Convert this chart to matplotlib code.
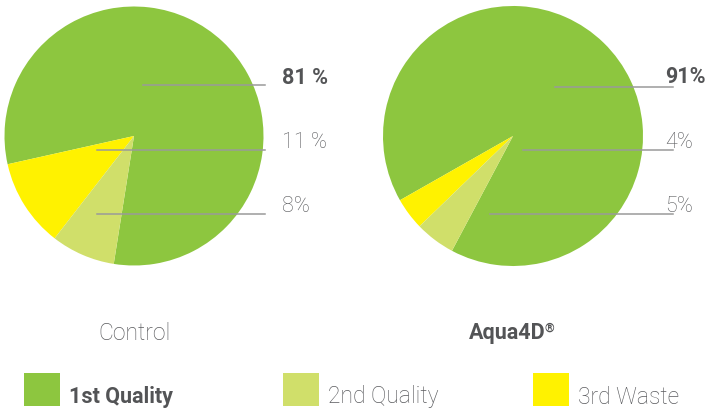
import matplotlib.pyplot as plt

# data
categories = ['1st Quality', '2nd Quality', '3rd Waste']
control = [81, 8, 11]
aqua = [91, 5, 4]
control_labels = ['81 %', '11 %', '8%']
aqua_labels = ['91%', '4%', '5%']
titles = ['Control', 'Aqua4D']

colors = {'1st Quality': '#8dc63f', '2nd Quality': '#d0df6a', '3rd Waste': '#fff200'}
grey = '#5a5b5e'
dark = '#535456'
line_c = '#9a9a9a'

plt.rcParams['font.family'] = ['Roboto', 'DejaVu Sans']

W, H = 707, 415
fig = plt.figure(figsize=(W / 100, H / 100), dpi=100)
ax = fig.add_axes([0, 0, 1, 1])


def py(y):
    # pixel row from top -> data y
    return H - y


# pie order drawn counterclockwise: 1st, 3rd, 2nd
order = [0, 2, 1]


def draw_pie(vals, cx, cy, r, start):
    v = [vals[i] for i in order]
    c = [colors[categories[i]] for i in order]
    ax.pie(v, colors=c, startangle=start, counterclock=True, center=(cx, py(cy)),
           radius=r, wedgeprops=dict(linewidth=0), frame=True)


draw_pie(control, 134, 136, 129.5, 261)
draw_pie(aqua, 513, 136, 130, 242)
ax.set_xlim(0, W)
ax.set_ylim(0, H)
ax.set_aspect('equal')
ax.axis('off')

# label leader lines and texts
left_lines = [(143, 85), (97, 150), (97, 214)]
right_lines = [(555, 87), (523, 150), (490, 214)]
left_text_y = [78, 142, 206]
right_text_y = [77, 142, 207]

for i, (x0, y0) in enumerate(left_lines):
    ax.plot([x0, 265], [py(y0), py(y0)], color=line_c, lw=1.1)
    ax.text(282, py(left_text_y[i]), control_labels[i], ha='left', va='center', fontsize=15.5,
            color=dark if i == 0 else grey, fontweight='bold' if i == 0 else 'light')

for i, (x0, y0) in enumerate(right_lines):
    ax.plot([x0, 673], [py(y0), py(y0)], color=line_c, lw=1.1)
    ax.text(665, py(right_text_y[i]), aqua_labels[i], ha='left', va='center', fontsize=15.5,
            color=dark if i == 0 else grey, fontweight='bold' if i == 0 else 'light')

ax.text(134, py(333), titles[0], ha='center', va='center', fontsize=16.5, color=grey, fontweight='light')
t = ax.text(507, py(333), titles[1], ha='center', va='center', fontsize=15.5, color=dark, fontweight='bold')
ax.annotate('®', xy=(1, 1), xycoords=t, xytext=(-0.5, 0.5), textcoords='offset points',
            ha='left', va='top', fontsize=9, color=dark, fontweight='bold')

# legend
leg_x = [24, 283, 533]
for i, cat in enumerate(categories):
    ax.add_patch(plt.Rectangle((leg_x[i], py(406)), 36, 33, color=colors[cat], lw=0))
    ax.text(leg_x[i] + 45, py(397), cat, ha='left', va='center',
            fontsize=15.5 if i == 0 else 16.5,
            color=dark if i == 0 else grey, fontweight='bold' if i == 0 else 'light')

fig.savefig('out.png', dpi=100)
